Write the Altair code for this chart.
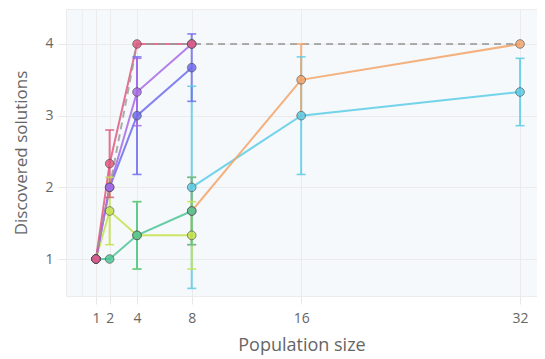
import altair as alt
import pandas as pd

# ---- data ----
series_names = ["pink", "purple", "blue", "green", "lime", "orange", "cyan"]
series_colors = ["#e05a80", "#a86ae6", "#6f6ded", "#4ec596", "#c5e24c", "#f2a46a", "#5ccce8"]

pink_x = [1, 2, 4, 8]
pink_mean = [1, 2.33, 4, 4]
pink_std = [0, 0.47, 0, 0]

purple_x = [1, 2, 4, 8]
purple_mean = [1, 2, 3.33, 4]
purple_std = [0, 0, 0.47, 0]

blue_x = [1, 2, 4, 8]
blue_mean = [1, 2, 3, 3.67]
blue_std = [0, 0, 0.82, 0.47]

green_x = [1, 2, 4, 8]
green_mean = [1, 1, 1.33, 1.67]
green_std = [0, 0, 0.47, 0.47]

lime_x = [1, 2, 4, 8]
lime_mean = [1, 1.67, 1.33, 1.33]
lime_std = [0, 0.47, 0.47, 0.47]

orange_x = [8, 16, 32]
orange_mean = [1.67, 3.5, 4]
orange_std = [0.47, 0.5, 0]

cyan_x = [8, 16, 32]
cyan_mean = [2, 3, 3.33]
cyan_std = [1.41, 0.82, 0.47]

ref_x = [1, 2, 4, 8, 16, 32]
ref_y = [1, 2, 4, 4, 4, 4]

x_ticks = [1, 2, 4, 8, 16, 32]
y_ticks = [1, 2, 3, 4]
zero_line = [0]

# ---- build table (drawn in reverse so that pink ends on top) ----
rows = []
groups = [
    ("cyan", cyan_x, cyan_mean, cyan_std),
    ("orange", orange_x, orange_mean, orange_std),
    ("lime", lime_x, lime_mean, lime_std),
    ("green", green_x, green_mean, green_std),
    ("blue", blue_x, blue_mean, blue_std),
    ("purple", purple_x, purple_mean, purple_std),
    ("pink", pink_x, pink_mean, pink_std),
]
for name, xs, ms, ss in groups:
    for i, (x, m, s) in enumerate(zip(xs, ms, ss)):
        rows.append({"series": name, "pop": x, "mean": m, "lo": m - s, "hi": m + s, "order": i})
df = pd.DataFrame(rows)
df_err = df[df["hi"] > df["lo"]]
df_ref = pd.DataFrame({"pop": ref_x, "val": ref_y})
df_zero = pd.DataFrame({"pop": zero_line})

FONT = "Open Sans"
xscale = alt.Scale(domain=[-1.19, 33.24], nice=False, zero=False)
yscale = alt.Scale(domain=[0.484, 4.488], nice=False, zero=False)
cscale = alt.Scale(domain=series_names, range=series_colors)

xaxis = alt.Axis(values=x_ticks, title="Population size", grid=True, domain=False,
                 tickColor="#e6e6e6", tickSize=8, labelPadding=7,
                 labelFontSize=14, labelColor="#666666", labelFont=FONT,
                 titleFontSize=18, titleColor="#666666", titleFont=FONT,
                 titleFontWeight="normal", titlePadding=11)
yaxis = alt.Axis(values=y_ticks, format="d", title="Discovered solutions", grid=True, domain=False,
                 tickColor="#e6e6e6", tickSize=8, labelPadding=5,
                 labelFontSize=14, labelColor="#666666", labelFont=FONT,
                 titleFontSize=17, titleColor="#666666", titleFont=FONT,
                 titleFontWeight="normal", titlePadding=14)

zero = alt.Chart(df_zero).mark_rule(color="#ebebeb", strokeWidth=1).encode(
    x=alt.X("pop:Q", scale=xscale, axis=xaxis)
)

lines = alt.Chart(df).mark_line(strokeWidth=2, opacity=0.85).encode(
    x=alt.X("pop:Q", scale=xscale, axis=xaxis),
    y=alt.Y("mean:Q", scale=yscale, axis=yaxis),
    color=alt.Color("series:N", scale=cscale, legend=None),
    detail="series:N",
    order="order:Q",
)

ref = alt.Chart(df_ref).mark_line(color="#999999", strokeDash=[7, 5], strokeWidth=2, opacity=0.8).encode(
    x="pop:Q", y="val:Q",
)

err_rule = alt.Chart(df_err).mark_rule(strokeWidth=2, opacity=0.85).encode(
    x="pop:Q", y="lo:Q", y2="hi:Q",
    color=alt.Color("series:N", scale=cscale, legend=None),
)
cap_lo = alt.Chart(df_err).mark_tick(orient="horizontal", size=9, thickness=1.6, opacity=0.85).encode(
    x="pop:Q", y="lo:Q",
    color=alt.Color("series:N", scale=cscale, legend=None),
)
cap_hi = alt.Chart(df_err).mark_tick(orient="horizontal", size=9, thickness=1.6, opacity=0.85).encode(
    x="pop:Q", y="hi:Q",
    color=alt.Color("series:N", scale=cscale, legend=None),
)

points = alt.Chart(df).mark_point(filled=True, shape="circle", size=75, opacity=0.85,
                                 stroke="#444444", strokeWidth=1, strokeOpacity=0.7).encode(
    x="pop:Q", y="mean:Q",
    fill=alt.Fill("series:N", scale=cscale, legend=None),
)

chart = alt.layer(zero, lines, ref, err_rule, cap_lo, cap_hi, points).properties(
    width=471, height=287,
    autosize=alt.AutoSizeParams(type="none"),
    padding={"left": 58, "top": 1, "right": 0, "bottom": 62},
).configure_view(
    fill="#f6f9fb", stroke="#ececec", strokeWidth=1
).configure_axis(
    gridColor="#ebebeb", gridWidth=1
)

chart.save("out.html", embed_options={"renderer": "svg", "actions": False})
